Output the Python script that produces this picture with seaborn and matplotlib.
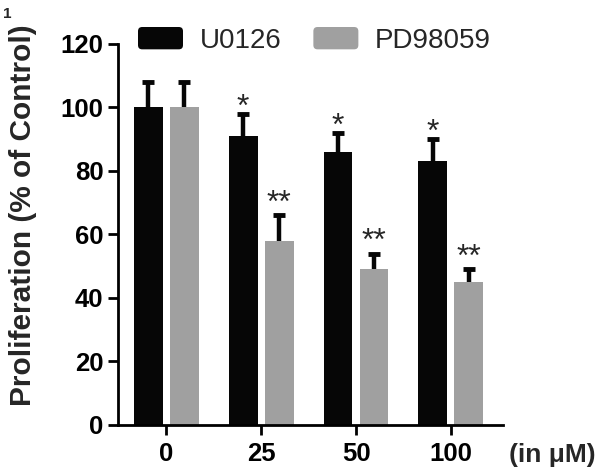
import pandas as pd
import matplotlib
matplotlib.use("Agg")
import matplotlib.pyplot as plt
from matplotlib.legend_handler import HandlerPatch
from matplotlib.patches import FancyBboxPatch
import seaborn as sns

doses = ["0", "25", "50", "100"]
drugs = ["U0126", "PD98059"]
u0126 = [100, 91, 86, 83]
u0126_err = [8, 7, 6, 7]
pd98059 = [100, 58, 49, 45]
pd98059_err = [8, 8, 5, 4]
u0126_stars = ["", "*", "*", "*"]
pd98059_stars = ["", "**", "**", "**"]

df = pd.DataFrame({
    "dose": doses * 2,
    "value": u0126 + pd98059,
    "err": u0126_err + pd98059_err,
    "stars": u0126_stars + pd98059_stars,
    "drug": [drugs[0]] * 4 + [drugs[1]] * 4,
})

sns.set_style("ticks")
plt.rcParams["font.family"] = ["Liberation Sans", "DejaVu Sans"]

fig = plt.figure(figsize=(6, 4.68), dpi=100)
ax = fig.add_axes([0.1967, 0.0919, 0.6417, 0.8141])

sns.barplot(data=df, x="dose", y="value", hue="drug", order=doses, hue_order=drugs,
            palette=["#060606", "#a0a0a0"], saturation=1, width=0.76, gap=0.2,
            errorbar=None, linewidth=0, ax=ax)

# one-sided (upper) error bars + stars
for cont, drug in zip(ax.containers, drugs):
    sub = df[df["drug"] == drug]
    for bar, (_, row) in zip(cont, sub.iterrows()):
        x = bar.get_x() + bar.get_width() / 2
        h = bar.get_height()
        _, caps, _ = ax.errorbar(x, h, yerr=[[0], [row["err"]]], fmt="none",
                                 ecolor="#060606", elinewidth=3.2, capsize=4.2,
                                 capthick=3.5)
        caps[0].set_visible(False)
        if row["stars"]:
            off = 1.0 if len(row["stars"]) > 1 else -0.6
            ax.text(x, h + row["err"] + off, row["stars"], ha="center", va="baseline",
                    fontsize=23)

ax.set_ylim(0, 120)
ax.set_xlim(-0.51, 3.55)
ax.set_yticks(range(0, 121, 20))
ax.set_xlabel("")
ax.set_ylabel("Proliferation (% of Control)", fontsize=21.5, fontweight="bold")
ax.yaxis.set_label_coords(-0.21, 0.55)
sns.despine(ax=ax)
for s in ["left", "bottom"]:
    ax.spines[s].set_linewidth(2)
    ax.spines[s].set_color("black")
ax.tick_params(axis="both", direction="out", length=7, width=2, colors="black",
               labelsize=18.5)
ax.tick_params(axis="x", pad=5)
for lab in ax.get_xticklabels() + ax.get_yticklabels():
    lab.set_fontweight("bold")


class RoundBox(HandlerPatch):
    def create_artists(self, legend, orig_handle, xdescent, ydescent, width, height,
                       fontsize, trans):
        p = FancyBboxPatch((-xdescent, -ydescent), width, height,
                           boxstyle="round,pad=0,rounding_size=3",
                           facecolor=orig_handle.get_facecolor(), edgecolor="none",
                           transform=trans)
        return [p]


handles, labels = ax.get_legend_handles_labels()
ax.legend(handles, labels, loc="upper left", bbox_to_anchor=(138 / 600, 1 - 27 / 468),
          bbox_transform=fig.transFigure, ncol=2, frameon=False, fontsize=20,
          handlelength=1.62, handleheight=0.86, handletextpad=0.6, columnspacing=1.15,
          borderpad=0, borderaxespad=0, handler_map={h: RoundBox() for h in handles})

fig.text(509 / 600, 1 - 455 / 468, "(in \u03bcM)", fontsize=19, fontweight="bold",
         ha="left", va="center")
fig.text(3 / 600, 1 - 14 / 468, "1", fontsize=11, fontweight="bold", ha="left", va="center")

fig.savefig("out.png", dpi=100)
